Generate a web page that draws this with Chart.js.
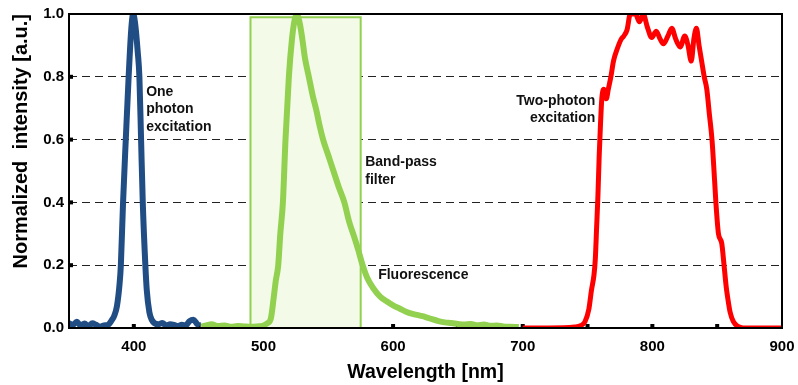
<!DOCTYPE html>
<html lang="en">
<head>
  <meta charset="UTF-8">
  <title>Excitation and fluorescence spectra</title>
  <script src="https://cdn.jsdelivr.net/npm/chart.js"></script>
  <style>
    body {
      margin: 0;
      background: #fff;
    }
    canvas {
      display: block;
    }
  </style>
</head>
<body>
  <canvas id="spectraChart" width="798" height="385"></canvas>

  <script>
    // one photon excitation (blue)
    const blueX = [350, 353, 356, 359, 362, 365, 368, 371, 374, 377, 380, 383, 385, 387, 389, 390, 391.7, 393.8, 396, 398, 399.5, 401, 403, 404.3, 405.6, 406.9, 408.9, 410, 412, 414, 416, 419, 422, 425, 428, 431, 434, 437, 440, 443, 446, 449, 451];
    const blueY = [0.015, 0.01, 0.02, 0.008, 0.014, 0.006, 0.015, 0.01, 0.004, 0.008, 0.01, 0.025, 0.04, 0.07, 0.14, 0.2, 0.4, 0.6, 0.8, 0.95, 1.0, 0.97, 0.88, 0.8, 0.6, 0.4, 0.2, 0.12, 0.05, 0.025, 0.015, 0.012, 0.016, 0.008, 0.012, 0.01, 0.006, 0.01, 0.008, 0.022, 0.026, 0.012, 0.008];

    // fluorescence (green)
    const greenX = [452, 456, 460, 465, 470, 475, 480, 485, 490, 495, 500, 503, 505.7, 508, 509.5, 511.4, 513, 515, 517, 519.6, 522, 524, 525.7, 528, 530, 532, 535, 538, 541, 543, 546, 550, 554, 558, 562.4, 566, 570, 573, 576.5, 580, 585, 590, 595, 600, 605, 610, 615, 620, 625, 630, 635, 640, 645, 650, 655, 660, 665, 670, 675, 680, 685, 690, 697];
    const greenY = [0.005, 0.008, 0.012, 0.006, 0.008, 0.004, 0.006, 0.005, 0.004, 0.005, 0.008, 0.015, 0.03, 0.1, 0.15, 0.2, 0.3, 0.4, 0.6, 0.8, 0.92, 0.98, 1.0, 0.97, 0.92, 0.86, 0.8, 0.74, 0.69, 0.65, 0.6, 0.55, 0.5, 0.45, 0.4, 0.34, 0.29, 0.25, 0.2, 0.16, 0.125, 0.1, 0.085, 0.072, 0.062, 0.052, 0.045, 0.04, 0.035, 0.028, 0.022, 0.018, 0.016, 0.013, 0.011, 0.013, 0.009, 0.011, 0.007, 0.008, 0.005, 0.004, 0.003];

    // two-photon excitation (red)
    const redX = [700, 720, 740, 745, 748, 751, 753, 755, 756, 757, 758, 759, 760, 761, 762.5, 764.5, 766, 768, 770, 773, 776, 778, 780.5, 783, 787, 790, 793, 796, 799.5, 803, 806, 808.5, 812, 815, 818, 821.5, 825, 827.5, 830, 832, 834, 836, 838, 840, 842, 844, 846, 848, 849, 851, 853.5, 855.3, 857, 858, 860, 862.5, 866, 870, 900];
    const redY = [0, 0, 0.003, 0.008, 0.02, 0.06, 0.12, 0.17, 0.22, 0.32, 0.42, 0.55, 0.65, 0.73, 0.76, 0.73, 0.76, 0.8, 0.85, 0.89, 0.92, 0.93, 0.95, 1.0, 1.0, 0.975, 1.0, 0.96, 0.925, 0.945, 0.92, 0.905, 0.93, 0.955, 0.92, 0.895, 0.93, 0.9, 0.85, 0.92, 0.955, 0.9, 0.85, 0.8, 0.76, 0.68, 0.6, 0.47, 0.4, 0.3, 0.27, 0.2, 0.13, 0.1, 0.05, 0.02, 0.005, 0, 0];

    // band-pass filter window
    const filterX = [490, 490, 575, 575];
    const filterY = [0, 0.99, 0.99, 0];

    const xMin = 350, xMax = 900;
    const yTicks = [0, 0.2, 0.4, 0.6, 0.8, 1.0];

    const notes = [
      { x: 409.5, y: 0.752, align: 'left', lines: ['One', 'photon', 'excitation'] },
      { x: 578.5, y: 0.527, align: 'left', lines: ['Band-pass', 'filter'] },
      { x: 588.5, y: 0.168, align: 'left', lines: ['Fluorescence'] },
      { x: 756, y: 0.724, align: 'right', lines: ['Two-photon', 'excitation'] }
    ];

    const FONT = '"Liberation Sans", Arial, sans-serif';

    function toPoints(xs, ys) {
      return xs.map((x, i) => ({ x: x, y: ys[i] }));
    }

    const framePlugin = {
      id: 'frame',
      beforeDatasetsDraw(chart) {
        const { ctx, chartArea, scales } = chart;
        ctx.save();
        ctx.fillStyle = '#000';
        scales.x.ticks.forEach(t => {
          if (t.value <= xMin || t.value >= xMax) return;
          const px = scales.x.getPixelForValue(t.value);
          ctx.fillRect(px - 2, chartArea.bottom - 4, 4, 4);
        });
        scales.y.ticks.forEach(t => {
          if (t.value <= 0 || t.value >= 1) return;
          const py = scales.y.getPixelForValue(t.value);
          ctx.fillRect(chartArea.left, py - 2, 4, 4);
        });
        ctx.restore();
      },
      afterDatasetsDraw(chart) {
        const { ctx, chartArea, scales } = chart;
        ctx.save();
        ctx.strokeStyle = '#000';
        ctx.lineWidth = 2;
        ctx.strokeRect(chartArea.left, chartArea.top, chartArea.right - chartArea.left, chartArea.bottom - chartArea.top);

        ctx.fillStyle = '#111';
        ctx.font = 'bold 14px ' + FONT;
        ctx.textBaseline = 'middle';
        notes.forEach(n => {
          ctx.textAlign = n.align;
          const px = scales.x.getPixelForValue(n.x);
          const py = scales.y.getPixelForValue(n.y);
          n.lines.forEach((line, i) => ctx.fillText(line, px, py + i * 17.5));
        });
        ctx.restore();
      }
    };

    new Chart(document.getElementById('spectraChart'), {
      type: 'line',
      data: {
        datasets: [
          {
            label: 'One photon excitation',
            data: toPoints(blueX, blueY),
            borderColor: '#214d85',
            borderWidth: 6,
            pointRadius: 0,
            cubicInterpolationMode: 'monotone'
          },
          {
            label: 'Fluorescence',
            data: toPoints(greenX, greenY),
            borderColor: '#92d050',
            borderWidth: 6,
            pointRadius: 0,
            cubicInterpolationMode: 'monotone'
          },
          {
            label: 'Two-photon excitation',
            data: toPoints(redX, redY),
            borderColor: '#ff0000',
            borderWidth: 5,
            pointRadius: 0,
            cubicInterpolationMode: 'monotone'
          },
          {
            label: 'Band-pass filter',
            data: toPoints(filterX, filterY),
            borderColor: '#92d050',
            backgroundColor: '#f3fae8',
            borderWidth: 2,
            pointRadius: 0,
            tension: 0,
            fill: 'origin'
          }
        ]
      },
      options: {
        responsive: false,
        animation: false,
        layout: { padding: { top: 13, right: 16, left: 0, bottom: 0 } },
        plugins: {
          legend: { display: false },
          tooltip: { enabled: false }
        },
        scales: {
          x: {
            type: 'linear',
            min: xMin,
            max: xMax,
            afterFit: s => {
              s.height = 57;
              s.paddingLeft = 0;
              s.paddingRight = 0;
            },
            ticks: {
              stepSize: 50,
              autoSkip: false,
              maxRotation: 0,
              padding: 10,
              color: '#000',
              font: { family: FONT, size: 15, weight: 'bold' },
              callback: v => (v % 100 === 0 ? v : '')
            },
            grid: { display: false, drawTicks: false },
            border: { display: false },
            title: {
              display: true,
              text: 'Wavelength [nm]',
              color: '#000',
              font: { family: FONT, size: 19.5, weight: 'bold', lineHeight: 1.2 },
              padding: { top: 0, bottom: 1 }
            }
          },
          y: {
            min: 0,
            max: 1,
            afterFit: s => { s.width = 69; },
            afterBuildTicks: s => { s.ticks = yTicks.map(v => ({ value: v })); },
            ticks: {
              padding: 5,
              color: '#000',
              font: { family: FONT, size: 15, weight: 'bold' },
              callback: v => v.toFixed(1)
            },
            grid: {
              drawTicks: false,
              lineWidth: 1,
              color: c => (c.tick && c.tick.value > 0 && c.tick.value < 1 ? '#222' : 'transparent')
            },
            border: { display: false, dash: [8, 5] },
            title: {
              display: true,
              text: 'Normalized  intensity [a.u.]',
              align: 'end',
              color: '#000',
              font: { family: FONT, size: 20, weight: 'bold', lineHeight: 1.2 },
              padding: { top: 9, bottom: 0 }
            }
          }
        }
      },
      plugins: [framePlugin]
    });
  </script>
</body>
</html>
